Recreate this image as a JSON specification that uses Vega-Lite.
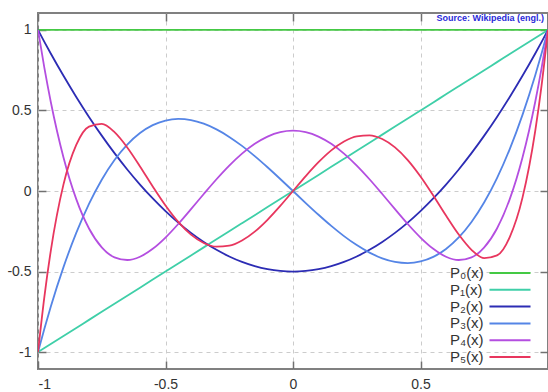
{
  "$schema": "https://vega.github.io/schema/vega-lite/v6.json",
  "width": 510,
  "height": 356,
  "autosize": {"type": "none"},
  "padding": {"left": 38, "top": 13, "right": 0, "bottom": 23},
  "config": {
    "font": "Liberation Sans",
    "view": {"stroke": "#808080", "strokeWidth": 2},
    "axis": {
      "domain": false,
      "title": null,
      "tickColor": "#707070",
      "tickWidth": 1.5,
      "labelFont": "Liberation Sans",
      "labelFontSize": 14,
      "labelColor": "#333333",
      "gridColor": "#cccccc",
      "gridDash": [4, 4],
      "gridWidth": 1
    }
  },
  "title": {
    "text": "Source: Wikipedia (engl.)",
    "anchor": "end",
    "orient": "top",
    "frame": "group",
    "offset": -11,
    "dx": -4,
    "fontSize": 9,
    "fontWeight": "bold",
    "color": "#2a2ad8"
  },
  "data": {
    "values": [
      {"x": -1, "P₀(x)": 1, "P₁(x)": -1, "P₂(x)": 1, "P₃(x)": -1, "P₄(x)": 1, "P₅(x)": -1},
      {"x": -0.975, "P₀(x)": 1, "P₁(x)": -0.975, "P₂(x)": 0.92594, "P₃(x)": -0.85465, "P₄(x)": 0.76379, "P₅(x)": -0.65672},
      {"x": -0.95, "P₀(x)": 1, "P₁(x)": -0.95, "P₂(x)": 0.85375, "P₃(x)": -0.71844, "P₄(x)": 0.55409, "P₅(x)": -0.37274},
      {"x": -0.9, "P₀(x)": 1, "P₁(x)": -0.9, "P₂(x)": 0.715, "P₃(x)": -0.4725, "P₄(x)": 0.20794, "P₅(x)": 0.04114},
      {"x": -0.85, "P₀(x)": 1, "P₁(x)": -0.85, "P₂(x)": 0.58375, "P₃(x)": -0.26031, "P₄(x)": -0.0506, "P₅(x)": 0.28567},
      {"x": -0.8, "P₀(x)": 1, "P₁(x)": -0.8, "P₂(x)": 0.46, "P₃(x)": -0.08, "P₄(x)": -0.233, "P₅(x)": 0.39952},
      {"x": -0.75, "P₀(x)": 1, "P₁(x)": -0.75, "P₂(x)": 0.34375, "P₃(x)": 0.07031, "P₄(x)": -0.3501, "P₅(x)": 0.41638},
      {"x": -0.7, "P₀(x)": 1, "P₁(x)": -0.7, "P₂(x)": 0.235, "P₃(x)": 0.1925, "P₄(x)": -0.41206, "P₅(x)": 0.3652},
      {"x": -0.65, "P₀(x)": 1, "P₁(x)": -0.65, "P₂(x)": 0.13375, "P₃(x)": 0.28844, "P₄(x)": -0.42841, "P₅(x)": 0.27049},
      {"x": -0.6, "P₀(x)": 1, "P₁(x)": -0.6, "P₂(x)": 0.04, "P₃(x)": 0.36, "P₄(x)": -0.408, "P₅(x)": 0.15264},
      {"x": -0.55, "P₀(x)": 1, "P₁(x)": -0.55, "P₂(x)": -0.04625, "P₃(x)": 0.40906, "P₄(x)": -0.35904, "P₅(x)": 0.0282},
      {"x": -0.5, "P₀(x)": 1, "P₁(x)": -0.5, "P₂(x)": -0.125, "P₃(x)": 0.4375, "P₄(x)": -0.28906, "P₅(x)": -0.08984},
      {"x": -0.45, "P₀(x)": 1, "P₁(x)": -0.45, "P₂(x)": -0.19625, "P₃(x)": 0.44719, "P₄(x)": -0.20497, "P₅(x)": -0.19172},
      {"x": -0.4, "P₀(x)": 1, "P₁(x)": -0.4, "P₂(x)": -0.26, "P₃(x)": 0.44, "P₄(x)": -0.113, "P₅(x)": -0.27064},
      {"x": -0.35, "P₀(x)": 1, "P₁(x)": -0.35, "P₂(x)": -0.31625, "P₃(x)": 0.41781, "P₄(x)": -0.01872, "P₅(x)": -0.32245},
      {"x": -0.3, "P₀(x)": 1, "P₁(x)": -0.3, "P₂(x)": -0.365, "P₃(x)": 0.3825, "P₄(x)": 0.07294, "P₅(x)": -0.34539},
      {"x": -0.25, "P₀(x)": 1, "P₁(x)": -0.25, "P₂(x)": -0.40625, "P₃(x)": 0.33594, "P₄(x)": 0.15771, "P₅(x)": -0.33972},
      {"x": -0.2, "P₀(x)": 1, "P₁(x)": -0.2, "P₂(x)": -0.44, "P₃(x)": 0.28, "P₄(x)": 0.232, "P₅(x)": -0.30752},
      {"x": -0.15, "P₀(x)": 1, "P₁(x)": -0.15, "P₂(x)": -0.46625, "P₃(x)": 0.21656, "P₄(x)": 0.29284, "P₅(x)": -0.25232},
      {"x": -0.1, "P₀(x)": 1, "P₁(x)": -0.1, "P₂(x)": -0.485, "P₃(x)": 0.1475, "P₄(x)": 0.33794, "P₅(x)": -0.17883},
      {"x": -0.05, "P₀(x)": 1, "P₁(x)": -0.05, "P₂(x)": -0.49625, "P₃(x)": 0.07469, "P₄(x)": 0.36565, "P₅(x)": -0.09266},
      {"x": 0, "P₀(x)": 1, "P₁(x)": 0, "P₂(x)": -0.5, "P₃(x)": 0, "P₄(x)": 0.375, "P₅(x)": 0},
      {"x": 0.05, "P₀(x)": 1, "P₁(x)": 0.05, "P₂(x)": -0.49625, "P₃(x)": -0.07469, "P₄(x)": 0.36565, "P₅(x)": 0.09266},
      {"x": 0.1, "P₀(x)": 1, "P₁(x)": 0.1, "P₂(x)": -0.485, "P₃(x)": -0.1475, "P₄(x)": 0.33794, "P₅(x)": 0.17883},
      {"x": 0.15, "P₀(x)": 1, "P₁(x)": 0.15, "P₂(x)": -0.46625, "P₃(x)": -0.21656, "P₄(x)": 0.29284, "P₅(x)": 0.25232},
      {"x": 0.2, "P₀(x)": 1, "P₁(x)": 0.2, "P₂(x)": -0.44, "P₃(x)": -0.28, "P₄(x)": 0.232, "P₅(x)": 0.30752},
      {"x": 0.25, "P₀(x)": 1, "P₁(x)": 0.25, "P₂(x)": -0.40625, "P₃(x)": -0.33594, "P₄(x)": 0.15771, "P₅(x)": 0.33972},
      {"x": 0.3, "P₀(x)": 1, "P₁(x)": 0.3, "P₂(x)": -0.365, "P₃(x)": -0.3825, "P₄(x)": 0.07294, "P₅(x)": 0.34539},
      {"x": 0.35, "P₀(x)": 1, "P₁(x)": 0.35, "P₂(x)": -0.31625, "P₃(x)": -0.41781, "P₄(x)": -0.01872, "P₅(x)": 0.32245},
      {"x": 0.4, "P₀(x)": 1, "P₁(x)": 0.4, "P₂(x)": -0.26, "P₃(x)": -0.44, "P₄(x)": -0.113, "P₅(x)": 0.27064},
      {"x": 0.45, "P₀(x)": 1, "P₁(x)": 0.45, "P₂(x)": -0.19625, "P₃(x)": -0.44719, "P₄(x)": -0.20497, "P₅(x)": 0.19172},
      {"x": 0.5, "P₀(x)": 1, "P₁(x)": 0.5, "P₂(x)": -0.125, "P₃(x)": -0.4375, "P₄(x)": -0.28906, "P₅(x)": 0.08984},
      {"x": 0.55, "P₀(x)": 1, "P₁(x)": 0.55, "P₂(x)": -0.04625, "P₃(x)": -0.40906, "P₄(x)": -0.35904, "P₅(x)": -0.0282},
      {"x": 0.6, "P₀(x)": 1, "P₁(x)": 0.6, "P₂(x)": 0.04, "P₃(x)": -0.36, "P₄(x)": -0.408, "P₅(x)": -0.15264},
      {"x": 0.65, "P₀(x)": 1, "P₁(x)": 0.65, "P₂(x)": 0.13375, "P₃(x)": -0.28844, "P₄(x)": -0.42841, "P₅(x)": -0.27049},
      {"x": 0.7, "P₀(x)": 1, "P₁(x)": 0.7, "P₂(x)": 0.235, "P₃(x)": -0.1925, "P₄(x)": -0.41206, "P₅(x)": -0.3652},
      {"x": 0.75, "P₀(x)": 1, "P₁(x)": 0.75, "P₂(x)": 0.34375, "P₃(x)": -0.07031, "P₄(x)": -0.3501, "P₅(x)": -0.41638},
      {"x": 0.8, "P₀(x)": 1, "P₁(x)": 0.8, "P₂(x)": 0.46, "P₃(x)": 0.08, "P₄(x)": -0.233, "P₅(x)": -0.39952},
      {"x": 0.85, "P₀(x)": 1, "P₁(x)": 0.85, "P₂(x)": 0.58375, "P₃(x)": 0.26031, "P₄(x)": -0.0506, "P₅(x)": -0.28567},
      {"x": 0.9, "P₀(x)": 1, "P₁(x)": 0.9, "P₂(x)": 0.715, "P₃(x)": 0.4725, "P₄(x)": 0.20794, "P₅(x)": -0.04114},
      {"x": 0.95, "P₀(x)": 1, "P₁(x)": 0.95, "P₂(x)": 0.85375, "P₃(x)": 0.71844, "P₄(x)": 0.55409, "P₅(x)": 0.37274},
      {"x": 0.975, "P₀(x)": 1, "P₁(x)": 0.975, "P₂(x)": 0.92594, "P₃(x)": 0.85465, "P₄(x)": 0.76379, "P₅(x)": 0.65672},
      {"x": 1, "P₀(x)": 1, "P₁(x)": 1, "P₂(x)": 1, "P₃(x)": 1, "P₄(x)": 1, "P₅(x)": 1}
    ]
  },
  "transform": [
    {"fold": ["P₀(x)", "P₁(x)", "P₂(x)", "P₃(x)", "P₄(x)", "P₅(x)"], "as": ["series", "y"]}
  ],
  "resolve": {"axis": {"x": "independent", "y": "independent"}},
  "layer": [
    {
      "mark": {"type": "line", "strokeWidth": 1.8, "interpolate": "monotone", "clip": true},
      "encoding": {
        "x": {
          "field": "x", "type": "quantitative",
          "scale": {"domain": [-1, 1], "nice": false, "zero": false},
          "axis": {"orient": "bottom", "values": [-1, -0.5, 0, 0.5, 1], "tickSize": -8, "labelPadding": 16, "labelExpr": "datum.value == 1 ? '' : '' + datum.value", "grid": true}
        },
        "y": {
          "field": "y", "type": "quantitative",
          "scale": {"domain": [-1.105, 1.105], "nice": false, "zero": false},
          "axis": {"orient": "left", "values": [-1, -0.5, 0, 0.5, 1], "tickSize": -8, "labelPadding": 15, "labelExpr": "'' + datum.value", "grid": true}
        },
        "color": {
          "field": "series", "type": "nominal",
          "scale": {
            "domain": ["P₀(x)", "P₁(x)", "P₂(x)", "P₃(x)", "P₄(x)", "P₅(x)"],
            "range": ["#44c944", "#3fcfa8", "#2c2cb4", "#5585e6", "#b44ee0", "#e8365e"]
          },
          "legend": {
            "orient": "none",
            "legendX": 412,
            "legendY": 252,
            "title": null,
            "symbolType": "M-3,0H3",
            "symbolSize": 187,
            "symbolStrokeWidth": 2,
            "labelFontSize": 15,
            "labelColor": "#333333",
            "labelFont": "Liberation Sans",
            "rowPadding": 0.8,
            "encode": {
              "symbols": {"update": {"x": {"value": 60}}},
              "labels": {"update": {"x": {"value": 0}}}
            }
          }
        }
      }
    },
    {
      "mark": {"type": "line", "opacity": 0},
      "encoding": {
        "x": {
          "field": "x", "type": "quantitative",
          "axis": {"orient": "top", "values": [-1, -0.5, 0, 0.5, 1], "tickSize": -8, "labels": false, "grid": false}
        },
        "y": {
          "field": "y", "type": "quantitative",
          "axis": {"orient": "right", "values": [-1, -0.5, 0, 0.5, 1], "tickSize": -8, "labels": false, "grid": false}
        },
        "detail": {"field": "series"}
      }
    }
  ]
}
